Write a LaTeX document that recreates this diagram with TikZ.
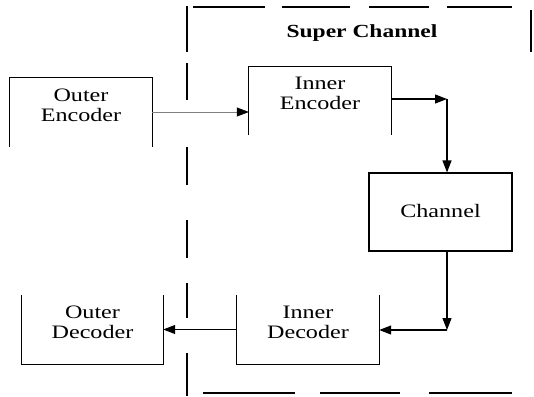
\documentclass[tikz,border=0pt]{standalone}
\usepackage{fontspec}
\setmainfont[FakeStretch=1.27]{Liberation Serif}
\usetikzlibrary{arrows.meta,positioning}

\begin{document}
\begin{tikzpicture}[x=1pt, y=-1pt,
    box/.style = {inner sep=0pt, minimum width=142pt, minimum height=69pt},
    lbl/.style = {align=center, inner sep=0pt, font=\fontsize{19}{20}\selectfont},
    wire/.style = {line width=1.1pt, -{Triangle[length=12pt,width=9pt]}},
    frame/.style = {line width=1.5pt}]
\useasboundingbox (0,0) rectangle (534,396);

% blocks
\node [box] (oenc) at (81,112) {};
\node [box, minimum height=68pt] (ienc) at (320,101) {};
\node [box, draw, line width=1.1pt, minimum width=143pt, minimum height=78pt] (chan) at (440.5,212) {};
\node [box] (idec) at (308,329.5) {};
\node [box, minimum width=141pt] (odec) at (92.5,329.5) {};

% open sides of the blocks
\draw [line width=1.1pt] (oenc.south west) |- (oenc.north east) -- (oenc.south east);
\draw [line width=1.1pt] (ienc.south west) |- (ienc.north east) -- (ienc.south east);
\draw [line width=1.1pt] (idec.north west) |- (idec.south east) -- (idec.north east);
\draw [line width=1.1pt] (odec.north west) |- (odec.south east) -- (odec.north east);

% texts
\node [lbl, yshift=7pt] (oencText) at (oenc) {Outer\\Encoder};
\node [lbl, yshift=8pt] (iencText) at (ienc) {Inner\\Encoder};
\node [lbl, yshift=1pt] (chanText) at (chan) {Channel};
\node [lbl, yshift=7pt] (idecText) at (idec) {Inner\\Decoder};
\node [lbl, yshift=7pt] (odecText) at (odec) {Outer\\Decoder};
\node [lbl, font=\fontsize{18.5}{20}\selectfont\bfseries, anchor=base] (title) at (362,37.5) {Super Channel};

% super channel frame
\foreach \a/\b in {6/52, 63/100, 147/185, 220/258, 283/318, 353/396}
    \draw [frame] (187,\a) -- (187,\b);
\foreach \a/\b in {193/265, 282/350, 369/429, 447/512}
    \draw [frame] (\a,7) -- (\b,7);
\foreach \a/\b in {203/295, 320/400, 429/512}
    \draw [frame] (\a,393) -- (\b,393);
\draw [frame] (531,10) -- (531,52);

% connections
\coordinate (turnA) at (447,99);
\coordinate (turnB) at (447,330);
\draw [wire, line width=0.6pt, draw=gray, -{Triangle[length=12pt,width=9pt,black]}]
    (oenc.east) -- (oenc.east -| ienc.west);
\draw [wire] (turnA -| ienc.east) -- (turnA);
\draw [wire] (turnA) -- (turnA |- chan.north);
\draw [wire] (turnA |- chan.south) -- (turnB);
\draw [wire] (turnB) -- (turnB -| idec.east);
\draw [wire] (idec.west) -- (odec.east);
\end{tikzpicture}
\end{document}
